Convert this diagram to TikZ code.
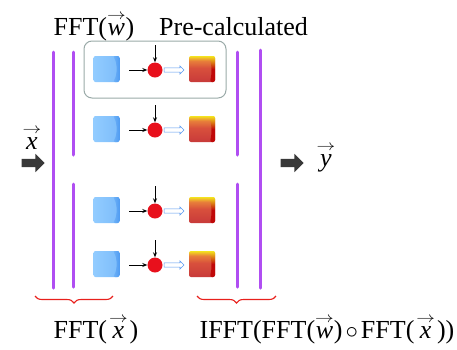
\documentclass[tikz,border=0pt]{standalone}
\usepackage{fontspec}
\usepackage{graphicx}
\setmainfont{Liberation Serif}
\usetikzlibrary{shapes.arrows,decorations.pathreplacing,arrows.meta}
\definecolor{purp}{HTML}{B04EF2}
\definecolor{bluelite}{HTML}{92CCFF}
\definecolor{bluedark}{HTML}{4896F0}
\definecolor{sqyellow}{HTML}{F4E41E}
\definecolor{sqorange}{HTML}{E8803A}
\definecolor{sqmid}{HTML}{D8503C}
\definecolor{sqbot}{HTML}{C83A3A}
\definecolor{sqdark}{HTML}{C00808}
\definecolor{dotred}{HTML}{E8101C}
\definecolor{boxgray}{HTML}{9AAAA8}
\definecolor{hollowblue}{HTML}{5A9AF0}
\definecolor{bracered}{HTML}{E8201C}
\pgfdeclareverticalshading{redsq}{100bp}{color(0bp)=(sqbot); color(25bp)=(sqbot); color(52bp)=(sqmid); color(66bp)=(sqorange); color(75bp)=(sqyellow); color(100bp)=(sqyellow)}
\newcommand{\tvec}[1]{\ooalign{\hfil\textit{#1}\hfil\cr\hfil\raisebox{0.6em}{\scalebox{0.75}[0.6]{$\rightarrow$}}\hfil\cr}}
\begin{document}
\begin{tikzpicture}[x=1pt,y=-1pt,
  txt/.style={font=\fontsize{26}{30}\selectfont, inner sep=0pt, anchor=base},
  bsq/.style={rounded corners=2pt, minimum size=26pt, inner sep=0pt, left color=bluelite, right color=bluelite!70!bluedark},
  bshade/.style={rounded corners=2pt, left color=bluelite!55!bluedark, right color=bluedark!90!bluelite},
  rsq/.style={rounded corners=2pt, minimum size=26pt, inner sep=0pt, shading=redsq},
  rshade/.style={rounded corners=2pt, top color=sqyellow, bottom color=sqdark, middle color=sqdark},
  rdot/.style={circle, fill=dotred, minimum size=15pt, inner sep=0pt},
  blk/.style={-{Stealth[length=5pt,width=4pt]}, line width=0.9pt, black},
  hollow/.style={single arrow, draw=hollowblue, fill=white, line width=0.6pt, minimum height=20pt, inner sep=1.8pt, single arrow head extend=2pt, single arrow head indent=0pt},
  bigarrow/.style={single arrow, fill=black!78, minimum height=23pt, inner sep=4pt, single arrow head extend=5pt, single arrow head indent=0pt},
  bar/.style={purp, line width=3pt, line cap=round},
  brc/.style={bracered, line width=1.1pt, decorate, decoration={brace, mirror, amplitude=7pt}}]
\useasboundingbox (0,0) rectangle (457,349);
% pre-calculated box
\draw[boxgray, line width=1pt, rounded corners=8pt] (84,41) rectangle (226,98);
% purple bars
\draw[bar] (53,52) -- (53,288);
\draw[bar] (73,52) -- (73,155);
\draw[bar] (73,184) -- (73,287);
\draw[bar] (237,52) -- (237,155);
\draw[bar] (237,184) -- (237,287);
\draw[bar] (260,50) -- (260,288);
% rows
\foreach \i/\y in {1/69,2/129,3/210,4/264}{
  \node[bsq] (b\i) at (106.5,\y) {};
  \shade[bshade] (113,\y-13) .. controls (117.5,\y-6) and (117.5,\y+6) .. (113,\y+13) -- (119.5,\y+13) -- (119.5,\y-13) -- cycle;
  \node[rdot] (c\i) at (155,\y+1) {};
  \node[rsq] (r\i) at (202,\y) {};
  \shade[rshade] (209,\y-13) .. controls (212,\y-4) and (212,\y+4) .. (210,\y+13) -- (215,\y+13) -- (215,\y-13) -- cycle;
  \coordinate (h\i) at (129,\y+1);
  \coordinate (v\i) at (155,\y-24);
  \draw[blk] (h\i) -- (c\i);
  \draw[blk] (v\i) -- (c\i);
  \node[hollow] (a\i) at (173,\y+1) {};
}
% texts
\node[txt] (tw) at (94,35) {FFT(\tvec{w})};
\node[txt] (tp) at (233.5,35) {Pre-calculated};
\node[txt] (tx) at (32,149) {\tvec{x}};
\node[txt] (ty) at (326,166) {\tvec{y}};
\node[bigarrow] (ain) at (31,163) {};
\node[bigarrow] (aout) at (290,163) {};
% braces
\coordinate (bl1) at (35,296);
\coordinate (bl2) at (113,296);
\coordinate (br1) at (197,296);
\coordinate (br2) at (276,296);
\draw[brc] (bl1) -- (bl2);
\draw[brc] (br1) -- (br2);
\node[txt] (lfx) at (96,338) {FFT(\kern2pt\tvec{x}\kern2pt)};
\node[txt] (lif) at (327,338) {IFFT(FFT(\tvec{w})\kern3pt$\circ$\kern3pt FFT(\kern2pt\tvec{x}\kern2pt))};
\end{tikzpicture}
\end{document}
